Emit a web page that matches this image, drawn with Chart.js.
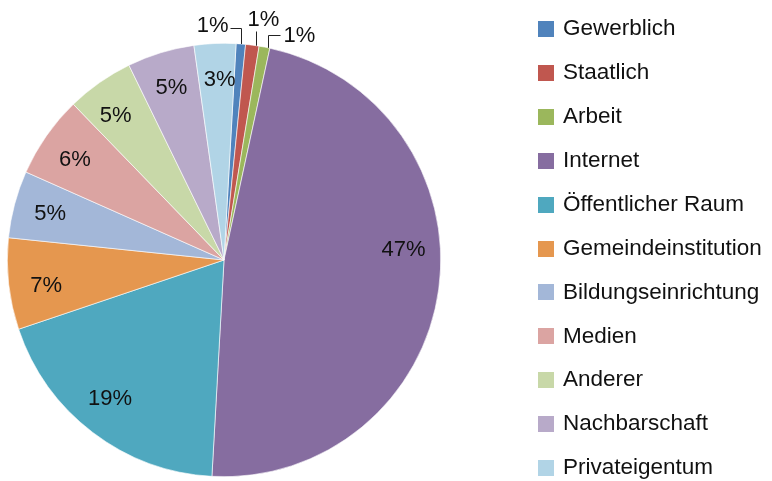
<!DOCTYPE html>
<html><head><meta charset="utf-8">
<script src="https://cdn.jsdelivr.net/npm/chart.js@4.4.1/dist/chart.umd.min.js"></script>
<style>html,body{margin:0;padding:0;background:#fff;} canvas{display:block}</style>
</head><body>
<canvas id="c" width="772" height="481"></canvas>
<script>
const categories = ['Gewerblich','Staatlich','Arbeit','Internet','Öffentlicher Raum','Gemeindeinstitution','Bildungseinrichtung','Medien','Anderer','Nachbarschaft','Privateigentum'];
const shares = [0.7, 1.0, 0.8, 47.4, 18.9, 6.8, 5.0, 6.1, 5.0, 5.0, 3.1];
const sliceColors = ['#5083BC','#C0574F','#9BB75C','#866DA0','#4FA8BF','#E5974F','#A3B7D8','#DBA4A2','#C8D8A8','#B8AAC9','#B1D4E6'];

const LABEL_FONT = '22px "Liberation Sans", Arial, sans-serif';
const LEGEND_FONT = '22.5px "Liberation Sans", Arial, sans-serif';

const sliceLabels = {
  id: 'sliceLabels',
  afterDatasetsDraw(chart, args, opts) {
    const ctx = chart.ctx;
    const meta = chart.getDatasetMeta(0);
    ctx.save();
    ctx.font = LABEL_FONT;
    ctx.fillStyle = '#111';
    ctx.strokeStyle = '#222';
    ctx.lineWidth = 1;
    meta.data.forEach((arc, i) => {
      const p = arc.getProps(['x','y','startAngle','endAngle','outerRadius'], true);
      const text = Math.round(shares[i]) + '%';
      const mid = (p.startAngle + p.endAngle) / 2;
      const co = opts.callouts[i];
      if (co) {
        const ang = mid + (co.shift || 0) * Math.PI / 180;
        const px = Math.round(p.x + p.outerRadius * Math.cos(ang)) + 0.5;
        const py = p.y + p.outerRadius * Math.sin(ang);
        const ey = Math.round(py - co.up) + 0.5;
        const ex = px + co.side;
        ctx.beginPath();
        ctx.moveTo(px, py);
        ctx.lineTo(px, ey);
        if (co.side) ctx.lineTo(ex, ey);
        ctx.stroke();
        ctx.textAlign = co.side < 0 ? 'right' : (co.side > 0 ? 'left' : 'center');
        ctx.textBaseline = 'middle';
        ctx.fillText(text, ex + co.tdx, ey + co.tdy);
      } else {
        const ang = mid + ((opts.nudge[i] || 0) * Math.PI / 180);
        const r = p.outerRadius * opts.radius;
        ctx.textAlign = 'center';
        ctx.textBaseline = 'middle';
        ctx.fillText(text, p.x + r * Math.cos(ang), p.y + r * Math.sin(ang));
      }
    });
    ctx.restore();
  }
};

const sideLegend = {
  id: 'sideLegend',
  afterDraw(chart, args, opts) {
    const ctx = chart.ctx;
    const ds = chart.data.datasets[0];
    ctx.save();
    ctx.font = LEGEND_FONT;
    ctx.textAlign = 'left';
    ctx.textBaseline = 'middle';
    chart.data.labels.forEach((lab, i) => {
      const cy = opts.y0 + i * opts.step;
      ctx.fillStyle = ds.backgroundColor[i];
      ctx.fillRect(opts.x, Math.round(cy - opts.box / 2), opts.box, opts.box);
      ctx.fillStyle = '#111';
      ctx.fillText(lab, opts.x + opts.box + opts.gap, cy);
    });
    ctx.restore();
  }
};

new Chart(document.getElementById('c'), {
  type: 'pie',
  data: {
    labels: categories,
    datasets: [{
      data: shares,
      backgroundColor: sliceColors,
      borderColor: '#ffffff',
      borderWidth: 0.6
    }]
  },
  options: {
    responsive: false,
    animation: false,
    rotation: 3.2,
    layout: { padding: { left: 7, top: 43, right: 331, bottom: 4 } },
    plugins: {
      legend: { display: false },
      tooltip: { enabled: false },
      sliceLabels: {
        radius: 0.83,
        nudge: { 3: -11, 4: 2, 5: -2, 7: -1, 8: -2, 10: 1 },
        callouts: {
          0: { up: 16, side: -11, tdx: -2, tdy: -3 },
          1: { shift: 1, up: 15, side: 0, tdx: 7, tdy: -12 },
          2: { shift: 1, up: 13, side: 12, tdx: 3, tdy: 0 }
        }
      },
      sideLegend: { x: 538, y0: 29, step: 43.9, box: 16, gap: 9 }
    }
  },
  plugins: [sliceLabels, sideLegend]
});
</script>
</body></html>
